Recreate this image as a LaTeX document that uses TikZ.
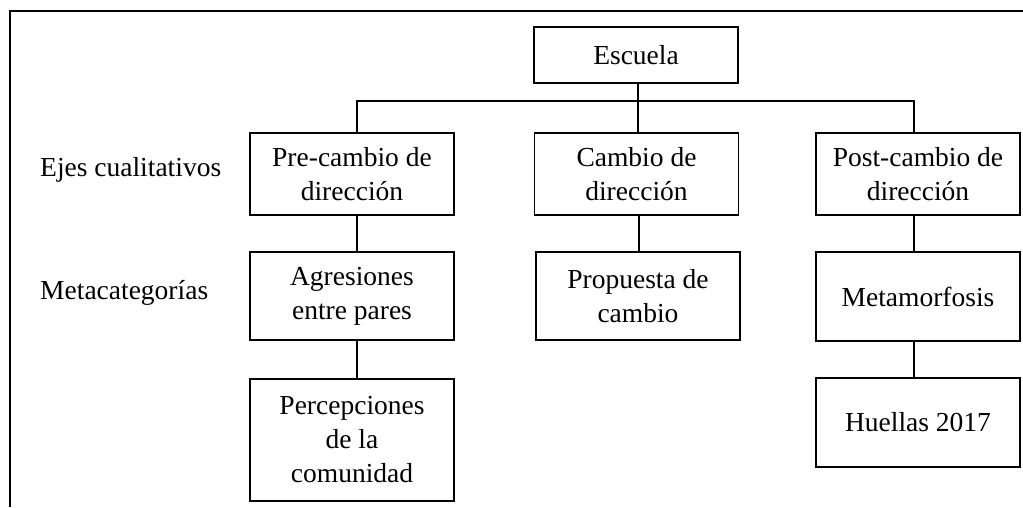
\documentclass[tikz,border=0pt]{standalone}
\usepackage{fontspec}
\setmainfont{Liberation Serif}
\begin{document}
\begin{tikzpicture}[x=1pt,y=-1pt,
  every node/.style={font=\fontsize{27.5}{34}\selectfont},
  box/.style={draw, line width=1.6pt, rectangle, inner sep=0pt, align=center, minimum width=204pt},
  conn/.style={line width=1.6pt},
  lbl/.style={anchor=west, inner sep=0pt}]
\useasboundingbox (0,0) rectangle (1023,507);
% frame
\coordinate (fbl) at (10,507);
\coordinate (ftl) at (10,11);
\coordinate (ftr) at (1023,11);
\draw[conn] (fbl) -- (ftl) -- (ftr);
% boxes
\node[box, minimum height=56pt] (esc) at (636,55) {Escuela};
\node[box, minimum height=82pt] (pre) at (352,174) {Pre-cambio de\\dirección};
\node[box, minimum height=82pt] (cam) at (636.5,174) {Cambio de\\dirección};
\node[box, minimum height=82pt] (post) at (918,174) {Post-cambio de\\dirección};
\node[box, minimum height=88pt] (agr) at (352,296) {Agresiones\\entre pares};
\node[box, minimum height=88pt] (prop) at (638,296) {Propuesta de\\cambio};
\node[box, minimum height=89pt] (meta) at (918,296.5) {Metamorfosis};
\node[box, minimum height=122pt] (perc) at (352,440) {Percepciones\\de la\\comunidad};
\node[box, minimum height=89pt] (hue) at (918,422.5) {Huellas 2017};
% labels
\node[lbl] (ejes) at (40,170) {Ejes cualitativos};
\node[lbl] (metac) at (40,293) {Metacategorías};
% connectors
\coordinate (bus) at (638,101);
\draw[conn] ([xshift=2pt]esc.south) -- ([xshift=2pt]esc.south |- cam.north);
\draw[conn] ([xshift=5pt]pre.north) |- (bus) -| ([xshift=-4pt]post.north);
\draw[conn] ([xshift=5pt]pre.south) -- ([xshift=5pt]agr.north);
\draw[conn] ([xshift=5pt]agr.south) -- ([xshift=5pt]perc.north);
\draw[conn] ([xshift=2.5pt]cam.south) -- ([xshift=2.5pt]cam.south |- prop.north);
\draw[conn] ([xshift=-4pt]post.south) -- ([xshift=-4pt]meta.north);
\draw[conn] ([xshift=-4pt]meta.south) -- ([xshift=-4pt]hue.north);
\end{tikzpicture}
\end{document}
